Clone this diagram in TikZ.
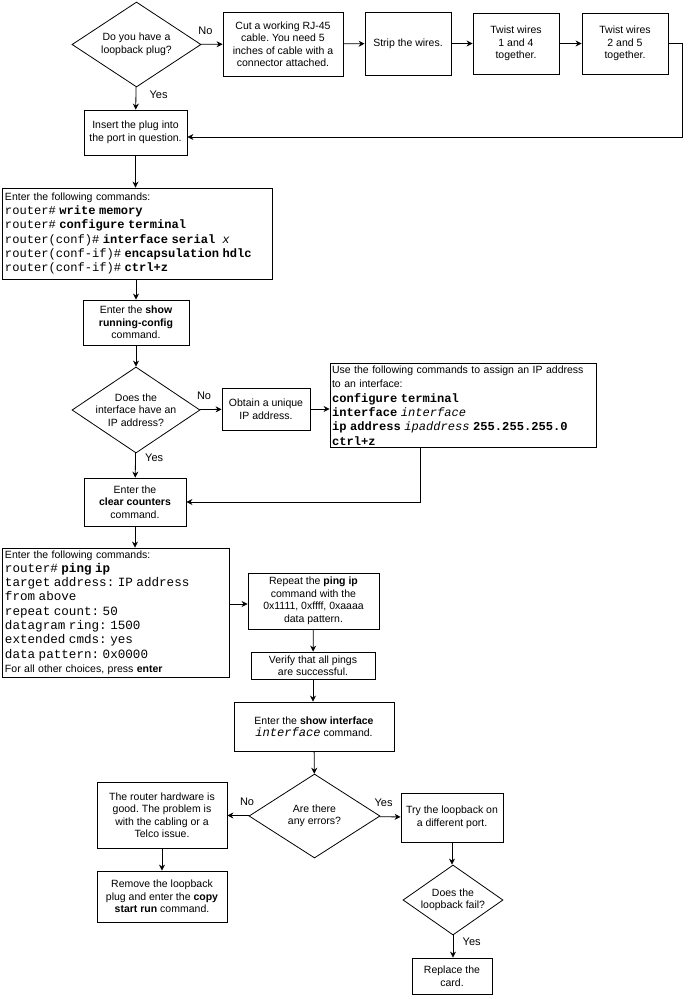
\documentclass[tikz,border=0pt]{standalone}
\usepackage{fontspec}
\setmainfont{Liberation Sans}
\setmonofont{Liberation Mono}
\usetikzlibrary{shapes.geometric,arrows.meta}
\frenchspacing

\newcommand{\cmd}[1]{{\fontsize{12.1}{14.3}\selectfont\ttfamily #1}}
\newcommand{\pingcmd}[1]{{\fontsize{12.6}{14}\selectfont\ttfamily #1}}

\begin{document}
\begin{tikzpicture}[>={Stealth[length=6pt,width=6pt]},x=1pt,y=-1pt,line width=0.8pt,
  every node/.style={font=\fontsize{10.5}{12.5}\selectfont},
  box/.style={draw,align=center,inner sep=1pt},
  cmdbox/.style={draw,align=left,inner xsep=3pt,inner ysep=2pt,font=\fontsize{10.5}{14.3}\selectfont},
  decision/.style={draw,shape=diamond,inner sep=0pt},
  lbl/.style={font=\fontsize{11}{13}\selectfont}]
\useasboundingbox (0,0) rectangle (688,999);

% top row
\node[decision,minimum width=129,minimum height=85,
  label={[align=center]center:Do you have a\\loopback plug?}] (plug) at (136.5,44.5) {};
\node[box,minimum width=120,minimum height=64] (cut) at (283,44)
  {Cut a working RJ-45\\cable. You need 5\\inches of cable with a\\connector attached.};
\node[box,minimum width=86,minimum height=63] (strip) at (408,43.5) {Strip the wires.};
\node[box,minimum width=86,minimum height=61] (twa) at (516,43.5) {Twist wires\\1 and 4\\together.};
\node[box,minimum width=86,minimum height=61] (twb) at (625,43.5) {Twist wires\\2 and 5\\together.};
\coordinate (back) at (682,137);

\node[box,minimum width=103,minimum height=45] (insert) at (135.5,132.5)
  {Insert the plug into\\the port in question.};

\node[cmdbox,text width=264,minimum height=91] (setup) at (137,233.5)
  {Enter the following commands:\\
   \cmd{router\# \textbf{write memory}}\\
   \cmd{router\# \textbf{configure terminal}}\\
   \cmd{router(conf)\# \textbf{interface serial}~~\textit{x}}\\
   \cmd{router(conf-if)\# \textbf{encapsulation hdlc}}\\
   \cmd{router(conf-if)\# \textbf{ctrl+z}}};

\node[box,minimum width=106,minimum height=45] (showrun) at (136,322.5)
  {Enter the \textbf{show}\\\textbf{running-config}\\command.};

% ip address check
\node[decision,minimum width=128,minimum height=86,
  label={[align=center]center:Does the\\interface have an\\IP address?}] (hasip) at (136,410) {};
\node[box,minimum width=88,minimum height=42] (obtain) at (266,409) {Obtain a unique\\IP address.};
\node[cmdbox,inner xsep=2pt,text width=262,minimum height=83] (assign) at (463,405.5)
  {Use the following commands to assign an IP address\\to an interface:\\
   \cmd{\textbf{configure terminal}}\\
   \cmd{\textbf{interface} \textit{interface}}\\
   \cmd{\textbf{ip address} \textit{ipaddress} \textbf{255.255.255.0}}\\
   \cmd{\textbf{ctrl+z}}};
\coordinate (up) at (420,502);

\node[box,minimum width=102,minimum height=48] (clear) at (135,502)
  {Enter the\\\textbf{clear counters}\\command.};

% ping test
\node[cmdbox,text width=221,minimum height=129] (ping) at (115.5,612.5)
  {Enter the following commands:\\
   \pingcmd{router\# \textbf{ping ip}}\\
   \pingcmd{target address: IP address}\\
   \pingcmd{from above}\\
   \pingcmd{repeat count: 50}\\
   \pingcmd{datagram ring: 1500}\\
   \pingcmd{extended cmds: yes}\\
   \pingcmd{data pattern: 0x0000}\\
   For all other choices, press \textbf{enter}};
\node[box,minimum width=131,minimum height=56] (repeat) at (313.5,601)
  {Repeat the \textbf{ping ip}\\command with the\\0x1111, 0xffff, 0xaaaa\\data pattern.};
\node[box,minimum width=124,minimum height=27] (verify) at (313,665.5)
  {Verify that all pings\\are successful.};
\node[box,minimum width=160,minimum height=49] (showint) at (314,726.5)
  {Enter the \textbf{show interface}\\\cmd{\textit{interface}} command.};

% errors
\node[decision,minimum width=131,minimum height=84,
  label={[align=center]center:Are there\\any errors?}] (errors) at (314.5,816) {};
\node[box,minimum width=130,minimum height=66] (good) at (162,815)
  {The router hardware is\\good. The problem is\\with the cabling or a\\Telco issue.};
\node[box,minimum width=130,minimum height=51] (remove) at (162,896.5)
  {Remove the loopback\\plug and enter the \textbf{copy}\\\textbf{start run} command.};
\node[box,minimum width=102,minimum height=49] (other) at (452,817.5)
  {Try the loopback on\\a different port.};
\node[decision,minimum width=100,minimum height=70,
  label={[align=center]center:Does the\\loopback fail?}] (fails) at (453,900) {};
\node[box,minimum width=80,minimum height=36] (replace) at (452,976) {Replace the\\card.};

\draw[->] (plug) -- node[lbl,pos=0.2,above=6pt] {No} (cut);
\draw[->] (cut) -- (strip);
\draw[->] (strip) -- (twa);
\draw[->] (twa) -- (twb);
\draw[->] (twb.east) -| (back) -- (back -| insert.east);
\draw[->] (plug) -- node[lbl,pos=0.35,right=10pt] {Yes} (insert);
\draw[->] (insert.south) -- (insert.south |- setup.north);
\draw[->] (setup.south -| showrun.north) -- (showrun.north);
\draw[->] (showrun) -- (hasip);
\draw[->] (hasip) -- node[lbl,pos=0.2,above=6pt] {No} (obtain);
\draw[->] (obtain.east) -- (obtain.east -| assign.west);
\draw[->] (assign.south -| up) -- (up) -- (clear.east);
\draw[->] (hasip) -- node[lbl,pos=0.2,right=6pt] {Yes} (clear);
\draw[->] (clear.south) -- (clear.south |- ping.north);
\draw[->] (ping.east |- 0,604) -- (repeat.west |- 0,604);
\draw[->] (repeat) -- (verify);
\draw[->] (verify.south) -- (verify.south |- showint.north);
\draw[->] (showint) -- (errors);
\draw[->] (errors) -- node[lbl,pos=0.1,above=6pt] {No} (good);
\draw[->] (errors) -- node[lbl,pos=0.2,above=6pt] {Yes} (other);
\draw[->] (good) -- (remove);
\draw[->] (other.south) -- (other.south |- fails.north);
\draw[->] (fails.south) -- node[lbl,pos=0.3,right=6pt] {Yes} (fails.south |- replace.north);
\end{tikzpicture}
\end{document}
